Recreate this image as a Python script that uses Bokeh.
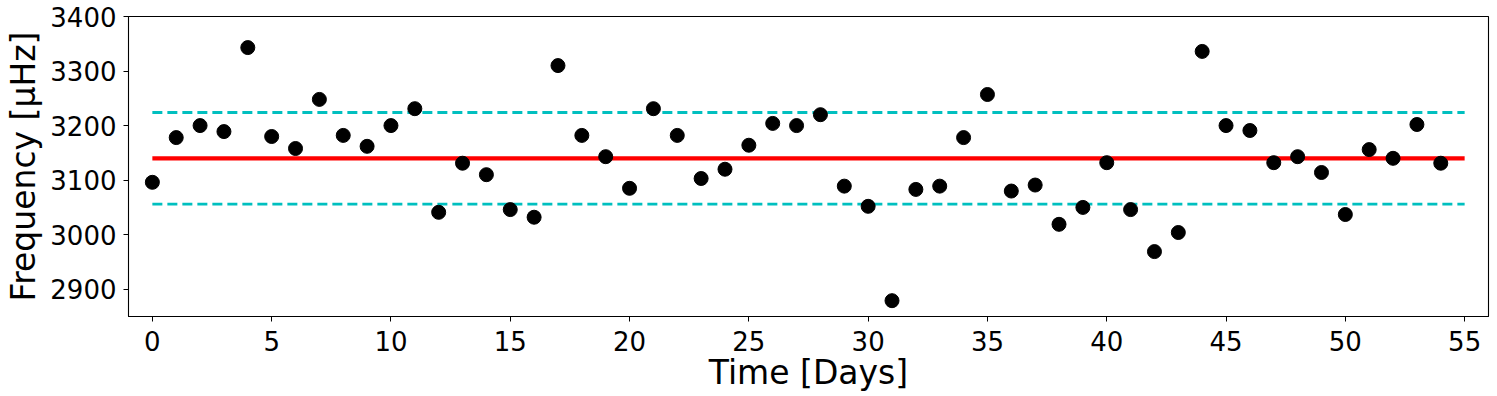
from bokeh.plotting import figure
from bokeh.models import FixedTicker
from bokeh.embed import file_html
from bokeh.resources import INLINE

days = list(range(55))
freq = [3096, 3178, 3200, 3189, 3343, 3180, 3158, 3248, 3182, 3162,
        3200, 3231, 3041, 3131, 3110, 3046, 3032, 3310, 3182, 3143,
        3085, 3231, 3182, 3103, 3120, 3164, 3204, 3200, 3220, 3089,
        3052, 2879, 3083, 3089, 3178, 3257, 3080, 3091, 3019, 3050,
        3132, 3046, 2969, 3004, 3336, 3200, 3191, 3132, 3143, 3114,
        3037, 3156, 3140, 3202, 3131]
mean_freq = 3140
band = 84
line_x = [0, 55]
x_ticks = list(range(0, 60, 5))
y_ticks = list(range(2900, 3500, 100))

p = figure(width=1494, height=396, x_range=(-1, 56), y_range=(2850, 3400),
           output_backend="svg", toolbar_location=None,
           min_border_left=128, min_border_right=6, min_border_top=16, min_border_bottom=80)

p.line(line_x, [mean_freq + band] * 2, line_color="#00BFBF", line_width=2.8, line_dash="10 5")
p.line(line_x, [mean_freq - band] * 2, line_color="#00BFBF", line_width=2.8, line_dash="10 5")
p.line(line_x, [mean_freq] * 2, line_color="#FF0000", line_width=4.2)
p.scatter(days, freq, size=14, fill_color="black", line_color="black", line_width=1)

p.xgrid.visible = False
p.ygrid.visible = False
p.outline_line_color = "black"
p.outline_line_width = 1.1

p.xaxis.ticker = FixedTicker(ticks=x_ticks)
p.yaxis.ticker = FixedTicker(ticks=y_ticks)
for ax in (p.xaxis[0], p.yaxis[0]):
    ax.minor_tick_line_color = None
    ax.major_tick_in = 0
    ax.major_tick_out = 5
    ax.major_tick_line_color = "black"
    ax.axis_line_color = "black"
    ax.major_label_text_font = "DejaVu Sans"
    ax.major_label_text_font_size = "26px"
    ax.major_label_text_color = "black"
    ax.axis_label_text_font = "DejaVu Sans"
    ax.axis_label_text_font_size = "33px"
    ax.axis_label_text_font_style = "normal"
    ax.axis_label_text_color = "black"

p.xaxis.major_label_standoff = 9
p.yaxis.major_label_standoff = 7
p.xaxis.axis_label = "Time [Days]"
p.yaxis.axis_label = "Frequency [μHz]"
p.xaxis.axis_label_standoff = -1
p.yaxis.axis_label_standoff = 4

open("out.html", "w").write(file_html(p, INLINE))
